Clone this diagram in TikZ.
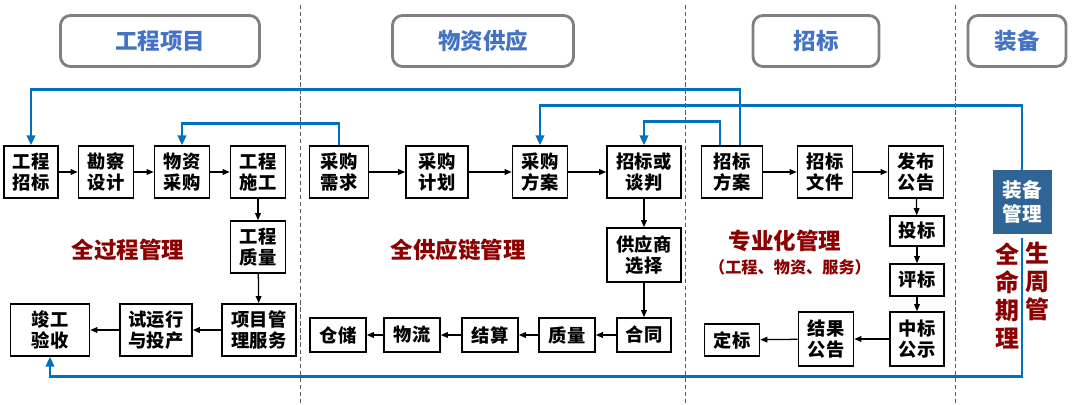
\documentclass[tikz,border=0pt]{standalone}
\usepackage{fontspec}
\setmainfont{Noto Sans CJK SC}
\usetikzlibrary{arrows.meta}
\definecolor{hdrblue}{HTML}{4472C4}
\definecolor{hdrgray}{HTML}{808080}
\definecolor{lnblue}{HTML}{0070C0}
\definecolor{mgtred}{HTML}{8B0000}
\definecolor{eqblue}{HTML}{2F6497}
\begin{document}
\begin{tikzpicture}[x=0.025cm,y=-0.025cm,
 box/.style={draw,line width=1.1pt,fill=white,align=center,inner sep=0pt,
  font=\bfseries\fontsize{13}{15}\selectfont,minimum width=1.375cm,minimum height=1.3cm},
 hdr/.style={draw=hdrgray,line width=2pt,rounded corners=0.25cm,minimum height=1.275cm,
  text=hdrblue,font=\bfseries\fontsize{16}{18}\selectfont},
 mgt/.style={text=mgtred,align=center,font=\bfseries\fontsize{16}{20}\selectfont},
 flow/.style={-{Triangle[length=5pt,width=4pt]},line width=0.9pt},
 bline/.style={-{Triangle[length=7pt,width=6pt]},draw=lnblue,line width=2pt},
 sep/.style={dash pattern=on 3pt off 2pt,line width=0.7pt,draw=black!65}]
 \useasboundingbox (0,0) rectangle (1080,405);
 \draw[sep] (300,5) -- (300,405);
 \draw[sep] (685,5) -- (685,405);
 \draw[sep,draw=eqblue] (955,5) -- (955,405);
 \path (160,41) node[hdr,minimum width=4.975cm] (h1) {工程项目}
 	(483,41) node[hdr,minimum width=4.525cm] (h2) {物资供应}
 	(816,41) node[hdr,minimum width=3.15cm] (h3) {招标}
 	(1017,41) node[hdr,minimum width=2.45cm] (h4) {装备};
 \path (31,172) node[box,minimum width=1.35cm] (gczb) {工程\\招标}
 	(106,172) node[box] (kcsj) {勘察\\设计}
 	(182,172) node[box] (wzcg) {物资\\采购}
 	(258,172) node[box] (gcsg) {工程\\施工}
 	(258,247) node[box] (gczl) {工程\\质量}
 	(259,330) node[box,minimum width=1.85cm] (xmgl) {项目管\\理服务}
 	(156,330) node[box,minimum width=1.8cm] (syx) {试运行\\与投产}
 	(50,330) node[box,minimum width=1.975cm] (jgys) {竣工\\验收};
 \path (339,172) node[box,minimum width=1.475cm] (cgxq) {采购\\需求}
 	(437,172) node[box,minimum width=1.55cm] (cgjh) {采购\\计划}
 	(540,172) node[box] (cgfa) {采购\\方案}
 	(644,172) node[box,minimum width=1.85cm] (zbht) {招标或\\谈判}
 	(644,255) node[box,minimum width=1.85cm,minimum height=1.35cm] (gysxz) {供应商\\选择}
 	(644,335) node[box,minimum width=1.35cm,minimum height=0.85cm] (ht) {合同}
 	(567,335) node[box,minimum width=1.4cm,minimum height=0.85cm] (zl) {质量}
 	(490,335) node[box,minimum width=1.4cm,minimum height=0.85cm] (js) {结算}
 	(412,335) node[box,minimum width=1.4cm,minimum height=0.85cm] (wl) {物流}
 	(338,335) node[box,minimum width=1.4cm,minimum height=0.85cm] (cc) {仓储};
 \path (732,172) node[box,minimum width=1.525cm] (zbfa) {招标\\方案}
 	(825,172) node[box] (zbwj) {招标\\文件}
 	(916,172) node[box] (fbgg) {发布\\公告}
 	(917,231) node[box,minimum width=1.35cm,minimum height=0.75cm] (tb) {投标}
 	(917,280) node[box,minimum width=1.35cm,minimum height=0.8cm] (pb) {评标}
 	(917,339) node[box,minimum width=1.35cm,minimum height=1.35cm] (zbgs) {中标\\公示}
 	(826,339) node[box,minimum height=1.35cm] (jggg) {结果\\公告}
 	(732,340) node[box,minimum height=0.8cm] (db) {定标};
 \node[box,draw=none,fill=eqblue,text=white,minimum width=1.475cm,minimum height=1.575cm,
  font=\bfseries\fontsize{14}{17}\selectfont] (zbgl) at (1022,202) {装备\\管理};
 \node[mgt] (qgc) at (128,250) {全过程管理};
 \node[mgt] (qgy) at (458,250) {全供应链管理};
 \node[mgt] (zyh) at (785,241) {专业化管理};
 \node[mgt,font=\bfseries\fontsize{11.5}{13}\selectfont] (zyhsub) at (790,267) {（工程、物资、服务）};
 \node[mgt,font=\bfseries\fontsize{17}{19.9}\selectfont] (qsm1) at (1007,296) {全\\命\\期\\理};
 \node[mgt,font=\bfseries\fontsize{17}{19.9}\selectfont] (qsm2) at (1037,281) {生\\周\\管};
 \draw[flow] (gczb) -- (kcsj);
 \draw[flow] (kcsj) -- (wzcg);
 \draw[flow] (wzcg) -- (gcsg);
 \draw[flow] (gcsg) -- (gczl);
 \draw[flow] (gczl) -- (xmgl);
 \draw[flow] (xmgl) -- (syx);
 \draw[flow] (syx) -- (jgys);
 \draw[flow] (cgxq) -- (cgjh);
 \draw[flow] (cgjh) -- (cgfa);
 \draw[flow] (cgfa) -- (zbht);
 \draw[flow] (zbht) -- (gysxz);
 \draw[flow] (gysxz) -- (ht);
 \draw[flow] (ht) -- (zl);
 \draw[flow] (zl) -- (js);
 \draw[flow] (js) -- (wl);
 \draw[flow] (wl) -- (cc);
 \draw[flow] (zbfa) -- (zbwj);
 \draw[flow] (zbwj) -- (fbgg);
 \draw[flow] (fbgg) -- (tb);
 \draw[flow] (tb) -- (pb);
 \draw[flow] (pb) -- (zbgs);
 \draw[flow] (zbgs) -- (jggg);
 \draw[flow] (jggg) -- (db);
 \draw[bline] ([xshift=0.2cm]zbfa.north) -- ++(0,-56) -| (gczb.north);
 \draw[bline] (zbgl.north) -- ++(0,-64) -| (cgfa.north);
 \draw[bline] (cgxq.north) -- ++(0,-22) -| (wzcg.north);
 \draw[bline] ([xshift=-0.3cm]zbfa.north) -- ++(0,-24) -| (zbht.north);
 \draw[bline] ([yshift=-3pt]zbgl.south) -- ++(0,138) -| (jgys.south);
\end{tikzpicture}
\end{document}
